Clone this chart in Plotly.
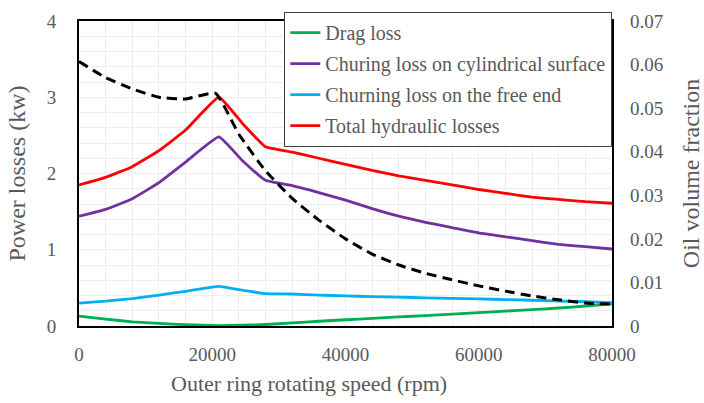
import plotly.graph_objects as go

speed = [0, 4000, 8000, 12000, 16000, 21000, 24500, 28000, 32000, 36000, 40000,
         44000, 48000, 52000, 56000, 60000, 64000, 68000, 72000, 76000, 80000]
drag_loss = [0.13, 0.09, 0.055, 0.034, 0.017, 0.005, 0.01, 0.02, 0.04, 0.062, 0.082,
             0.10, 0.119, 0.137, 0.155, 0.175, 0.195, 0.215, 0.236, 0.262, 0.29]
churn_cyl = [1.44, 1.53, 1.67, 1.88, 2.15, 2.48, 2.17, 1.91, 1.84, 1.75, 1.65,
             1.54, 1.44, 1.36, 1.29, 1.22, 1.17, 1.12, 1.07, 1.04, 1.01]
churn_end = [0.30, 0.325, 0.36, 0.405, 0.455, 0.52, 0.47, 0.425, 0.42, 0.405, 0.395,
             0.385, 0.378, 0.37, 0.362, 0.355, 0.347, 0.338, 0.328, 0.318, 0.306]
total_loss = [1.85, 1.95, 2.09, 2.30, 2.57, 3.00, 2.66, 2.35, 2.28, 2.20, 2.12,
              2.04, 1.97, 1.91, 1.85, 1.79, 1.74, 1.69, 1.66, 1.63, 1.61]

oil_speed = [0, 4000, 8000, 12000, 16000, 20500, 24000, 28000, 32000, 36000, 40000,
             44000, 48000, 52000, 56000, 60000, 64000, 68000, 72000, 76000, 80000]
oil_fraction = [0.0607, 0.0570, 0.0544, 0.0525, 0.0521, 0.0534, 0.0440, 0.0356, 0.0293,
                0.0243, 0.0200, 0.0165, 0.0140, 0.0121, 0.0106, 0.0092, 0.0080, 0.0069,
                0.0060, 0.0053, 0.0050]

series = [
    ("Drag loss", drag_loss, "#00B050"),
    ("Churing loss on cylindrical surface", churn_cyl, "#7030A0"),
    ("Churning loss on the free end", churn_end, "#00B0F0"),
    ("Total hydraulic losses", total_loss, "#FF0000"),
]

x_title = "Outer ring rotating speed (rpm)"
y_title = "Power losses (kw)"
y2_title = "Oil volume fraction"

FONT = "Liberation Serif, Times New Roman, serif"
GRAY = "#595959"

fig = go.Figure()
fig.add_trace(go.Scatter(
    x=oil_speed, y=oil_fraction, mode="lines", yaxis="y2", showlegend=False,
    line=dict(color="black", width=3, dash="10px,6px", shape="spline", smoothing=0.4),
))
for i, (name, vals, color) in enumerate(series):
    fig.add_trace(go.Scatter(
        x=speed, y=vals, mode="lines", name=name, legendgroup=f"g{i}",
        line=dict(color=color, width=2.8, shape="spline", smoothing=0.35),
    ))

fig.update_layout(
    width=704, height=403,
    margin=dict(l=79, r=91.5, t=11.5, b=77),
    paper_bgcolor="white", plot_bgcolor="white",
    font=dict(family=FONT, color=GRAY, size=19),
    showlegend=True,
    legend=dict(
        x=1, y=1.03, xanchor="right", yanchor="top",
        bgcolor="white", bordercolor="#404040", borderwidth=1.3,
        font=dict(family=FONT, size=20, color=GRAY),
        tracegroupgap=2, traceorder="grouped",
    ),
    xaxis=dict(
        range=[0, 80000], dtick=20000, tick0=0, tickformat="d",
        showline=True, linecolor="black", linewidth=2, mirror=True,
        showgrid=True, gridcolor="#EDEDED", gridwidth=1,
        minor=dict(dtick=4000, showgrid=True, gridcolor="#EDEDED", gridwidth=1),
        zeroline=False, ticks="", ticklabelstandoff=10, automargin=False,
        tickfont=dict(family=FONT, size=19, color=GRAY),
    ),
    yaxis=dict(
        range=[0, 4], dtick=1, tick0=0,
        showline=True, linecolor="black", linewidth=2, mirror=True,
        showgrid=True, gridcolor="#EDEDED", gridwidth=1,
        minor=dict(dtick=0.2, showgrid=True, gridcolor="#EDEDED", gridwidth=1),
        zeroline=False, ticks="", ticklabelstandoff=17, automargin=False,
        tickfont=dict(family=FONT, size=19, color=GRAY),
        title=dict(text=y_title, standoff=14,
                   font=dict(family=FONT, size=24, color=GRAY)),
    ),
    yaxis2=dict(
        range=[0, 0.07], dtick=0.01, tick0=0, overlaying="y", side="right",
        showgrid=False, zeroline=False, showline=False, ticks="",
        ticklabelstandoff=17, automargin=False,
        tickfont=dict(family=FONT, size=19, color=GRAY),
        title=dict(text=y2_title, standoff=20,
                   font=dict(family=FONT, size=24, color=GRAY)),
    ),
    annotations=[dict(
        text=x_title, xref="paper", yref="paper", x=0.431, y=-0.19,
        xanchor="center", yanchor="middle", showarrow=False,
        font=dict(family=FONT, size=22, color=GRAY),
    )],
)

fig.write_html("out.html", config={"displayModeBar": False},
               post_script="document.body.style.margin='0';")
